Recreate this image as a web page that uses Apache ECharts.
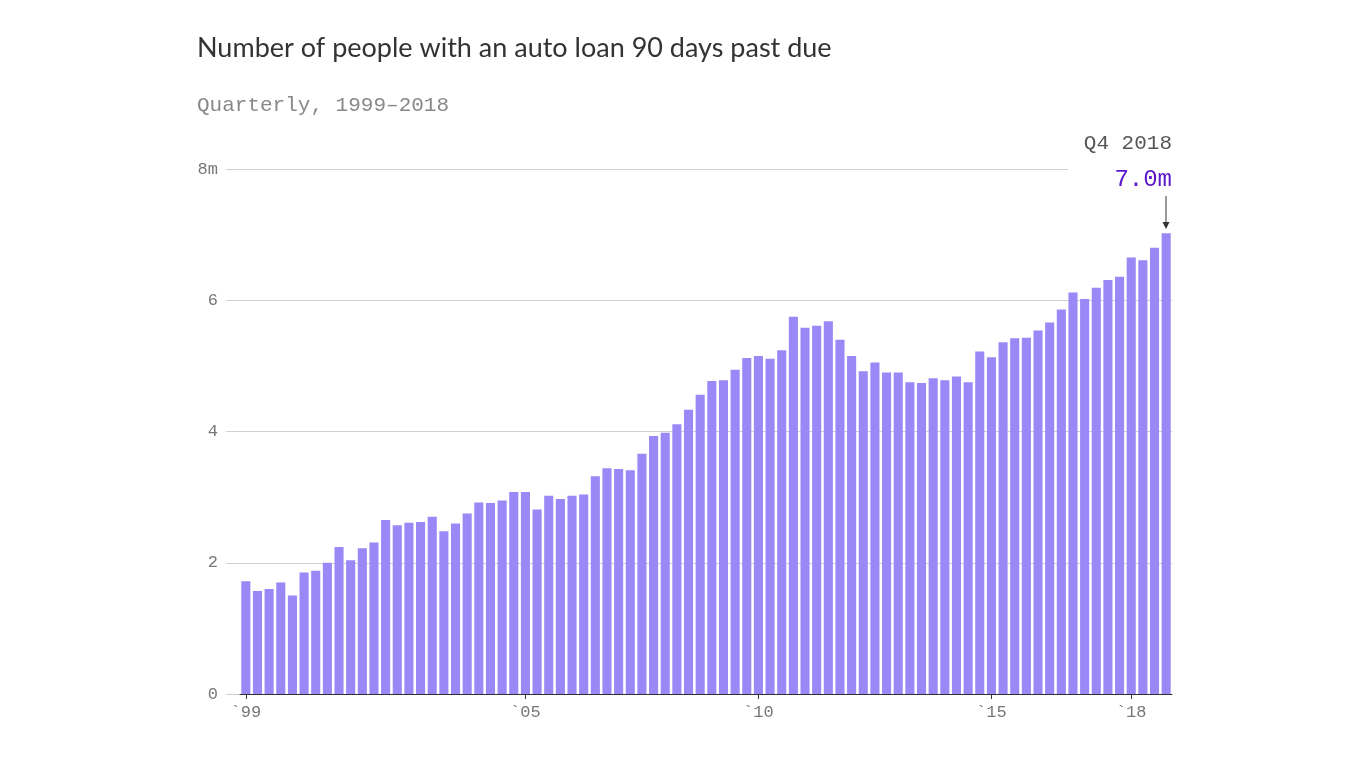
<!DOCTYPE html><html><head><meta charset="utf-8">
<script src="https://cdn.jsdelivr.net/npm/echarts@6/dist/echarts.min.js"></script>
<style>html,body{margin:0;background:#fff}#c{width:1366px;height:768px}</style></head><body><div id="c"></div>
<script>
const years=[1999,2000,2001,2002,2003,2004,2005,2006,2007,2008,2009,2010,2011,2012,2013,2014,2015,2016,2017,2018];
const labeledYears=[1999,2005,2010,2015,2018];
const values=[1.72,1.57,1.60,1.70, 1.50,1.85,1.88,2.00, 2.24,2.04,2.22,2.31, 2.65,2.57,2.61,2.62,
 2.70,2.48,2.60,2.75, 2.92,2.91,2.95,3.08, 3.08,2.81,3.02,2.97, 3.02,3.04,3.32,3.44,
 3.43,3.41,3.66,3.93, 3.98,4.11,4.33,4.56, 4.77,4.78,4.94,5.12, 5.15,5.11,5.24,5.75,
 5.58,5.61,5.68,5.40, 5.15,4.92,5.05,4.90, 4.90,4.75,4.74,4.81, 4.78,4.84,4.75,5.22,
 5.13,5.36,5.42,5.43, 5.54,5.66,5.86,6.12, 6.02,6.19,6.31,6.36, 6.65,6.61,6.80,7.02];
const yTicks=[0,2,4,6,8];
const cats=[];years.forEach(y=>{for(let q=1;q<=4;q++)cats.push(y+' Q'+q);});
const mono='"Liberation Mono","DejaVu Sans Mono",monospace';
const chart=echarts.init(document.getElementById('c'));
chart.setOption({
 animation:false,
 title:[{text:'Number of people with an auto loan 90 days past due',left:192,top:30,textStyle:{fontFamily:'Lato,"Noto Sans",sans-serif',fontWeight:'normal',fontSize:27,color:'#333'}},
  {text:'Quarterly, 1999–2018',left:192,top:90,textStyle:{fontFamily:mono,fontWeight:'normal',fontSize:21,color:'#888'}}],
 grid:[{left:226,right:194,top:169,bottom:74},{left:240,right:194,top:169,bottom:74}],
 xAxis:[{gridIndex:0,type:'value',min:0,max:1,show:false},
  {gridIndex:1,type:'category',data:cats,
   axisLine:{show:true,lineStyle:{color:'#333'}},
   axisTick:{show:true,alignWithLabel:true,length:5,lineStyle:{color:'#333'},interval:(i,v)=>v.endsWith('Q1')&&labeledYears.includes(+v.slice(0,4))},
   axisLabel:{interval:(i,v)=>v.endsWith('Q1')&&labeledYears.includes(+v.slice(0,4)),formatter:v=>'`'+v.slice(2,4),fontFamily:mono,fontSize:17,color:'#777',margin:10}}],
 yAxis:[{gridIndex:0,type:'value',min:0,max:8,interval:2,
   axisLabel:{formatter:v=>v===8?'8m':String(v),fontFamily:mono,fontSize:17,color:'#777',margin:8},
   splitLine:{lineStyle:{color:'#d0d0d0'}},axisLine:{show:false},axisTick:{show:false}},
  {gridIndex:1,type:'value',min:0,max:8,show:false}],
 series:[{type:'bar',xAxisIndex:1,yAxisIndex:1,data:values,barCategoryGap:'22%',itemStyle:{color:'#9988f5'}}],
 graphic:[
  {type:'rect',shape:{x:1068,y:160,width:120,height:18},style:{fill:'#fff'},z:50},
  {type:'text',right:194,top:133,style:{text:'Q4 2018',font:'21px '+mono,fill:'#555',textAlign:'right'},z:60},
  {type:'text',right:194,top:168,style:{text:'7.0m',font:'24px '+mono,fill:'#5b16c9',textAlign:'right'},z:60},
  {type:'line',shape:{x1:1166,y1:196,x2:1166,y2:226},style:{stroke:'#333',lineWidth:1},z:60},
  {type:'polygon',shape:{points:[[1162.5,222],[1169.5,222],[1166,229]]},style:{fill:'#333'},z:60}
 ]
});
</script></body></html>
